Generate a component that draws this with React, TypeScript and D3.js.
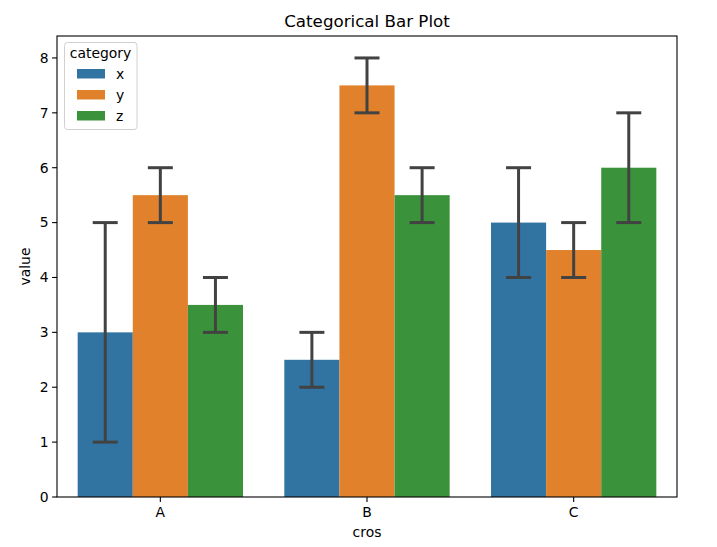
import React from "react";
import * as d3 from "d3";

const categories = ["A", "B", "C"];
const hues = ["x", "y", "z"];
const colors = ["#3274a1", "#e1812c", "#3a923a"];
const values: number[][] = [
  [3, 5.5, 3.5],
  [2.5, 7.5, 5.5],
  [5, 4.5, 6],
];
const lows: number[][] = [
  [1, 5, 3],
  [2, 7, 5],
  [4, 4, 5],
];
const highs: number[][] = [
  [5, 6, 4],
  [3, 8, 6],
  [6, 5, 7],
];
const yTicks = [0, 1, 2, 3, 4, 5, 6, 7, 8];

const W = 717, H = 547;
const left = 57, right = 677, top = 36, bottom = 497;
const FONT = "DejaVu Sans, sans-serif";
const FS = 13.9;

export default function App() {
  const x = d3.scaleLinear().domain([-0.5, 2.5]).range([left, right]);
  const y = d3.scaleLinear().domain([0, 8.4]).range([bottom, top]);
  const unit = x(1) - x(0);
  const bw = (unit * 0.8) / 3;
  const capW = 25;
  return (
    <svg width={W} height={H} style={{ position: "absolute", left: 0, top: 0, background: "#fff" }} fontFamily={FONT}>
      <rect x={0} y={0} width={W} height={H} fill="#fff" />
      {categories.map((c, ci) =>
        hues.map((h, hi) => {
          const x0 = x(ci) - unit * 0.4 + hi * bw;
          return (
            <rect key={c + h} x={x0} y={y(values[ci][hi])} width={bw} height={y(0) - y(values[ci][hi])} fill={colors[hi]} />
          );
        })
      )}
      {categories.map((c, ci) =>
        hues.map((h, hi) => {
          const cx = x(ci) - unit * 0.4 + (hi + 0.5) * bw;
          return (
            <g key={"e" + c + h} stroke="#424242" strokeWidth={3} strokeLinecap="butt">
              <line x1={cx} x2={cx} y1={y(lows[ci][hi])} y2={y(highs[ci][hi])} />
              <line x1={cx - capW / 2} x2={cx + capW / 2} y1={y(lows[ci][hi])} y2={y(lows[ci][hi])} />
              <line x1={cx - capW / 2} x2={cx + capW / 2} y1={y(highs[ci][hi])} y2={y(highs[ci][hi])} />
            </g>
          );
        })
      )}
      <rect x={left} y={top} width={right - left} height={bottom - top} fill="none" stroke="#000" strokeWidth={1.1} />
      {yTicks.map((t) => (
        <g key={"y" + t}>
          <line x1={left - 4.9} x2={left} y1={y(t)} y2={y(t)} stroke="#000" strokeWidth={1.1} />
          <text x={left - 8.5} y={y(t)} dy="0.35em" textAnchor="end" fontSize={FS} fill="#000">{t}</text>
        </g>
      ))}
      {categories.map((c, ci) => (
        <g key={"x" + c}>
          <line x1={x(ci)} x2={x(ci)} y1={bottom} y2={bottom + 4.9} stroke="#000" strokeWidth={1.1} />
          <text x={x(ci)} y={bottom + 9} dy="0.8em" textAnchor="middle" fontSize={FS} fill="#000">{c}</text>
        </g>
      ))}
      <text x={(left + right) / 2} y={537} textAnchor="middle" fontSize={FS} fill="#000">cros</text>
      <text transform={`translate(30, ${(top + bottom) / 2}) rotate(-90)`} textAnchor="middle" fontSize={FS} fill="#000">value</text>
      <text x={(left + right) / 2} y={27} textAnchor="middle" fontSize={16.7} fill="#000">Categorical Bar Plot</text>
      <g>
        <rect x={64.5} y={42.5} width={72.5} height={87} rx={3} fill="#fff" fillOpacity={0.8} stroke="#d0d0d0" strokeWidth={1} />
        <text x={100.5} y={58} textAnchor="middle" fontSize={FS} fill="#000">category</text>
        {hues.map((h, hi) => (
          <g key={"l" + h}>
            <rect x={77} y={69 + hi * 21} width={28} height={9.5} fill={colors[hi]} />
            <text x={116} y={74 + hi * 21} dy="0.35em" fontSize={FS} fill="#000">{h}</text>
          </g>
        ))}
      </g>
    </svg>
  );
}
